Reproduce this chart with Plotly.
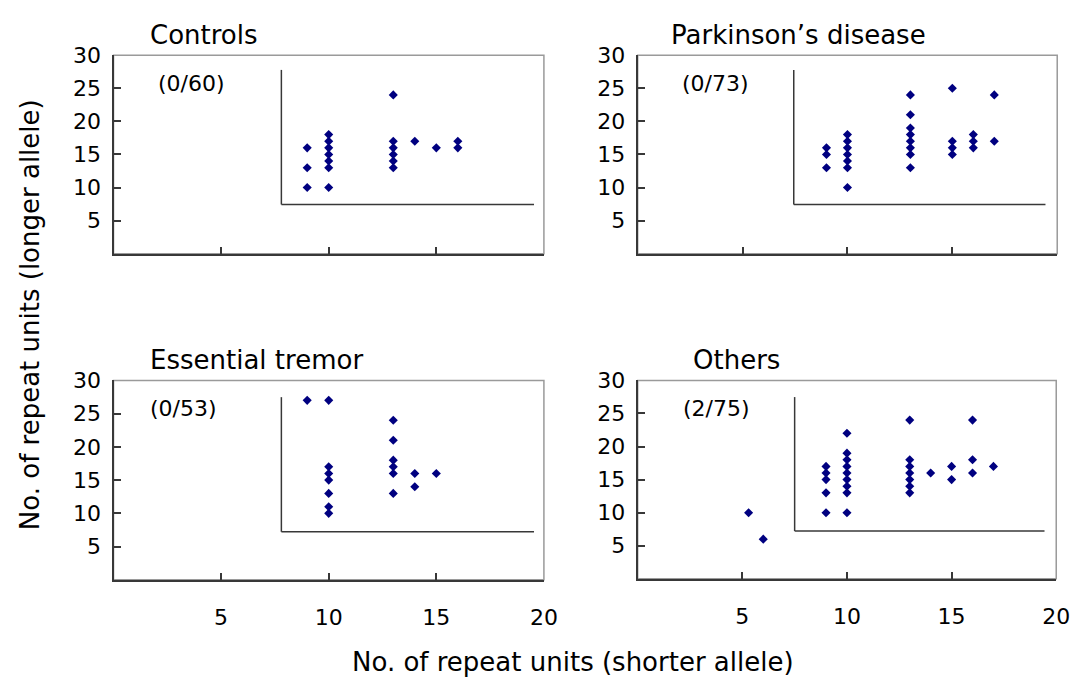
import plotly.graph_objects as go

# ---- data ----
panel_titles = ["Controls", "Parkinson\u2019s disease", "Essential tremor", "Others"]
panel_counts = ["(0/60)", "(0/73)", "(0/53)", "(2/75)"]

ctrl_x = [9, 9, 9, 10, 10, 10, 10, 10, 10, 10, 13, 13, 13, 13, 13, 13, 14, 15, 16, 16]
ctrl_y = [16, 13, 10, 18, 17, 16, 15, 14, 13, 10, 24, 17, 16, 15, 14, 13, 17, 16, 17, 16]

pd_x = [9, 9, 9, 10, 10, 10, 10, 10, 10, 10, 13, 13, 13, 13, 13, 13, 13, 13,
        15, 15, 15, 15, 16, 16, 16, 17, 17]
pd_y = [16, 15, 13, 18, 17, 16, 15, 14, 13, 10, 24, 21, 19, 18, 17, 16, 15, 13,
        25, 17, 16, 15, 18, 17, 16, 24, 17]

et_x = [9, 10, 10, 10, 10, 10, 10, 10, 13, 13, 13, 13, 13, 13, 14, 14, 15]
et_y = [27, 27, 17, 16, 15, 13, 11, 10, 24, 21, 18, 17, 16, 13, 16, 14, 16]

oth_x = [5.3, 6, 9, 9, 9, 9, 9, 10, 10, 10, 10, 10, 10, 10, 10, 10,
         13, 13, 13, 13, 13, 13, 13, 14, 15, 15, 16, 16, 16, 17]
oth_y = [10, 6, 17, 16, 15, 13, 10, 22, 19, 18, 17, 16, 15, 14, 13, 10,
         24, 18, 17, 16, 15, 14, 13, 16, 17, 15, 24, 18, 16, 17]

x_ticks = [5, 10, 15, 20]
y_ticks = [5, 10, 15, 20, 25, 30]

series = [(ctrl_x, ctrl_y), (pd_x, pd_y), (et_x, et_y), (oth_x, oth_y)]

W, H = 1088, 682
FONT = "DejaVu Sans, Verdana, sans-serif"
AX = "#383838"

# panel pixel boxes (left, right, top, bottom)
boxes = [(115, 551, 44, 246), (646, 1071, 44, 246),
         (115, 551, 375, 578), (646, 1070, 375, 577)]
# inner L-line positions in axis-domain fractions (x_vert, x_end, y_bottom, y_top)
inner = [(0.39, 0.977, 0.248, 0.926), (0.372, 0.972, 0.248, 0.926),
         (0.39, 0.977, 0.241, 0.916), (0.375, 0.972, 0.241, 0.916)]
title_pos = [(150, 23), (678, 23), (150, 354), (700, 354)]
count_pos = [(158, 73), (689, 73), (150, 404), (690, 404)]

fig = go.Figure()
layout = dict(width=W, height=H, margin=dict(l=0, r=0, t=0, b=0),
              paper_bgcolor="white", plot_bgcolor="white", showlegend=False,
              font=dict(family=FONT, color="black"))
shapes, annotations = [], []

for i, ((xs, ys), (l, r, t, b)) in enumerate(zip(series, boxes)):
    n = i + 1
    xa = "x" if n == 1 else f"x{n}"
    ya = "y" if n == 1 else f"y{n}"
    xkey = "xaxis" if n == 1 else f"xaxis{n}"
    ykey = "yaxis" if n == 1 else f"yaxis{n}"
    fig.add_trace(go.Scatter(x=xs, y=ys, mode="markers", xaxis=xa, yaxis=ya,
                             marker=dict(symbol="diamond", size=7, color="#000080",
                                         line=dict(width=0)),
                             hoverinfo="x+y"))
    layout[xkey] = dict(domain=[l / W, r / W], range=[0, 20], anchor=ya,
                        tickvals=x_ticks, ticks="inside", ticklen=7, tickwidth=1.5,
                        tickcolor=AX, showline=True, linecolor=AX, linewidth=2,
                        showgrid=False, zeroline=False,
                        showticklabels=(n >= 3), ticklabelstandoff=17,
                        tickfont=dict(size=22, family=FONT, color="black"))
    layout[ykey] = dict(domain=[1 - b / H, 1 - t / H], range=[0, 30], anchor=xa,
                        tickvals=y_ticks, ticks="inside", ticklen=7, tickwidth=1.5,
                        tickcolor=AX, showline=True, linecolor=AX, linewidth=2,
                        showgrid=False, zeroline=False, ticklabelstandoff=6,
                        tickfont=dict(size=22, family=FONT, color="black"))
    xd = f"{xa} domain"
    yd = f"{ya} domain"
    # grey frame (top / right)
    shapes.append(dict(type="rect", xref=xd, yref=yd, x0=0, x1=1, y0=0, y1=1,
                       line=dict(color="#9a9a9a", width=1.5), layer="below"))
    xv, xe, yb, yt = inner[i]
    shapes.append(dict(type="line", xref=xd, yref=yd, x0=xv, x1=xv, y0=yb, y1=yt,
                       line=dict(color=AX, width=1.5)))
    shapes.append(dict(type="line", xref=xd, yref=yd, x0=xv, x1=xe, y0=yb, y1=yb,
                       line=dict(color=AX, width=1.5)))
    tx, ty = title_pos[i]
    annotations.append(dict(text=panel_titles[i], x=tx / W, y=1 - ty / H,
                            xref="paper", yref="paper", xanchor="left", yanchor="middle",
                            showarrow=False, font=dict(size=26, family=FONT)))
    cx, cy = count_pos[i]
    annotations.append(dict(text=panel_counts[i], x=cx / W, y=1 - cy / H,
                            xref="paper", yref="paper", xanchor="left", yanchor="middle",
                            showarrow=False, font=dict(size=22, family=FONT)))

annotations.append(dict(text="No. of repeat units (longer allele)", x=30 / W, y=1 - 308 / H,
                        xref="paper", yref="paper", textangle=-90, showarrow=False,
                        xanchor="center", yanchor="middle", font=dict(size=26, family=FONT)))
annotations.append(dict(text="No. of repeat units (shorter allele)", x=580 / W, y=1 - 662 / H,
                        xref="paper", yref="paper", showarrow=False,
                        xanchor="center", yanchor="middle", font=dict(size=26, family=FONT)))

layout["shapes"] = shapes
layout["annotations"] = annotations
fig.update_layout(**layout)
fig.write_html("out.html")
